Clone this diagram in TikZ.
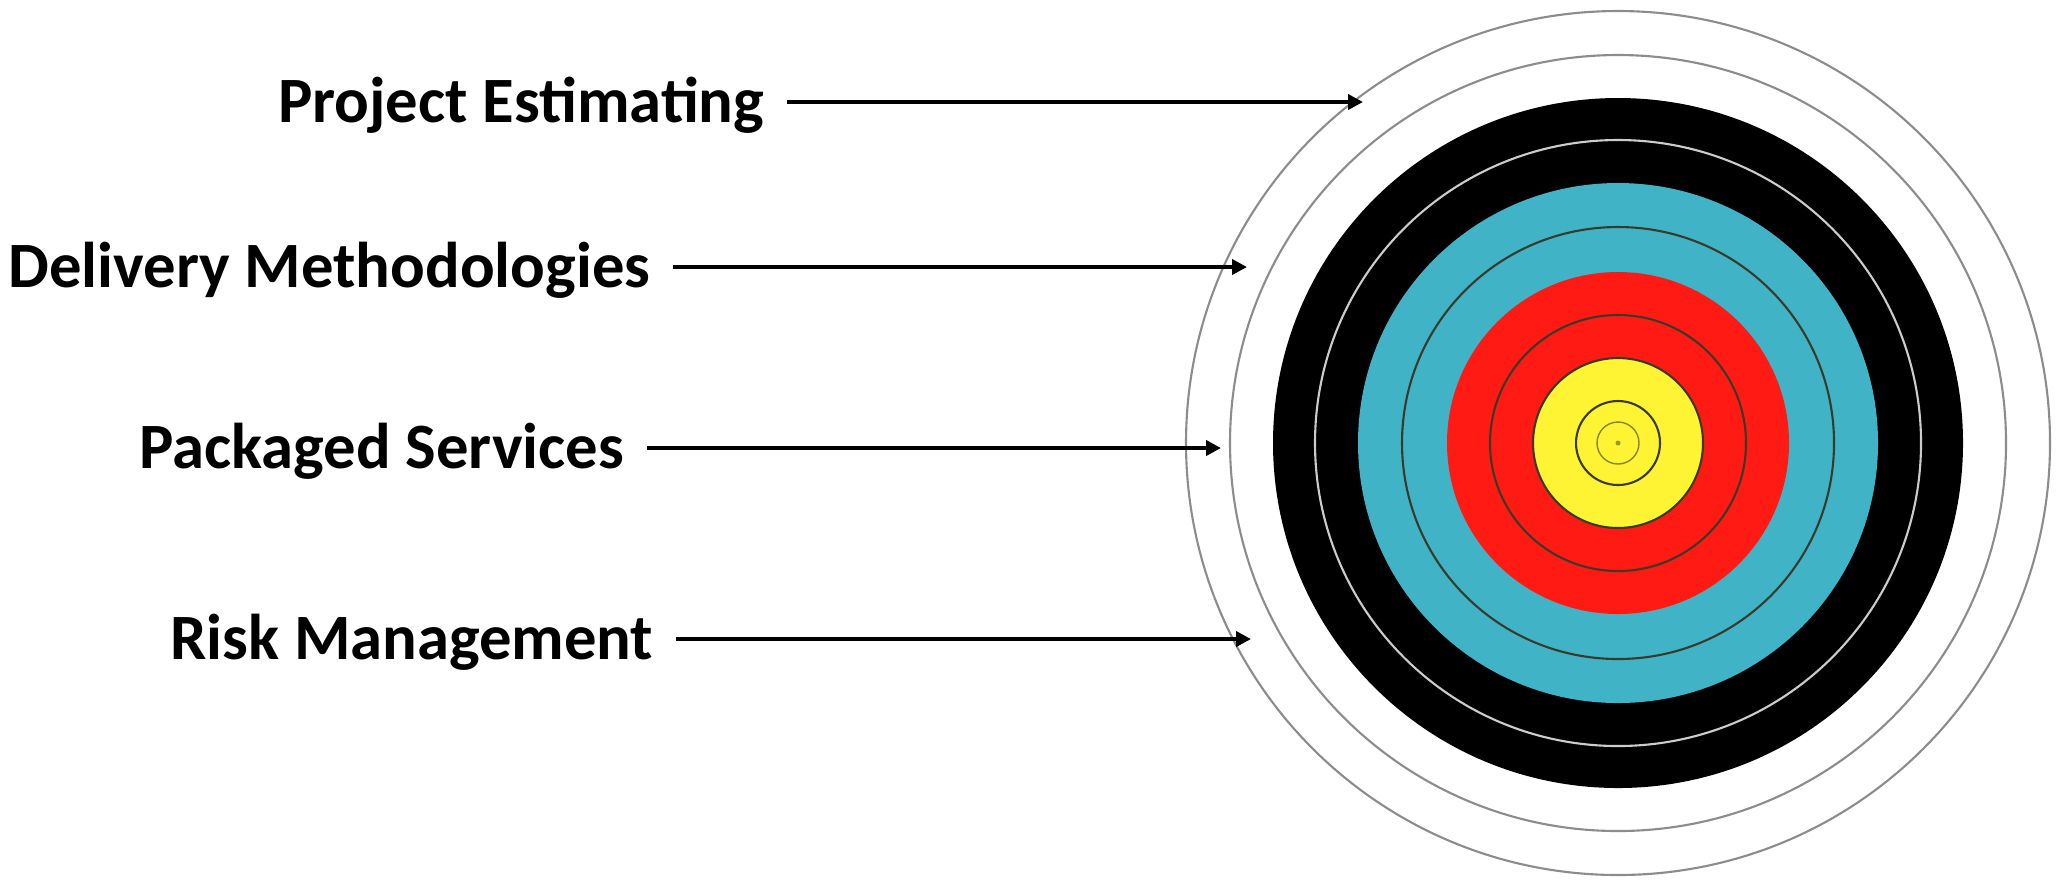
\documentclass[tikz,border=0pt]{standalone}
\usepackage{fontspec}
\setmainfont{Carlito}
\usepackage{tikz}
\usetikzlibrary{arrows.meta, positioning}
\definecolor{ink}{HTML}{000000}
\definecolor{ringcyan}{HTML}{41B3C6}
\definecolor{ringred}{HTML}{FF1A14}
\definecolor{ringgold}{HTML}{FFF433}
\definecolor{ringgray}{HTML}{8C8C8C}
\definecolor{ringdark}{HTML}{3A3A2A}
\tikzset{
  topic/.style  ={font=\fontsize{18.4}{22}\selectfont\bfseries, text=ink, anchor=east,
                  inner xsep=0.22cm, inner ysep=0pt, text height=11.8pt, text depth=0pt},
  pointer/.style={-{Triangle[length=1.5mm,width=1.5mm]}, line width=1.2pt, draw=ink},
  ring/.style   ={line width=0.6pt}
}

\begin{document}
\begin{tikzpicture}
  \useasboundingbox (0,0) rectangle (20.65,-8.79);
  \coordinate (ctr) at (16.18,-4.43);

  % target faces
  \foreach \rad/\col in {4.32/white, 3.45/black, 2.60/ringcyan, 1.71/ringred, 0.85/ringgold}
    \fill[\col] (ctr) circle (\rad);
  \draw[ring, draw=ringgray] (ctr) circle (4.32) (ctr) circle (3.88);
  \draw[ring, draw=white!80!black] (ctr) circle (3.03);
  \foreach \rad in {2.16, 1.28, 0.85, 0.42}
    \draw[ring, draw=ringdark] (ctr) circle (\rad);
  \draw[ring, line width=0.4pt, draw=ringdark!60!ringgold] (ctr) circle (0.21);
  \fill[ringdark!50!ringgold] (ctr) circle (0.025);

  % labels
  \node[topic] (est)  at (7.87,-1.02) {Project Estimating};
  \node[topic] (deliv) at (6.73,-2.67) {Delivery Methodologies};
  \node[topic] (pack) at (6.47,-4.48) {Packaged Services};
  \node[topic] (risk) at (6.76,-6.39) {Risk Management};

  \coordinate (estTip)   at (13.63,-1.02);
  \coordinate (delivTip) at (12.47,-2.67);
  \coordinate (packTip)  at (12.21,-4.48);
  \coordinate (riskTip)  at (12.51,-6.39);

  \draw[pointer] (est)   -- (estTip);
  \draw[pointer] (deliv) -- (delivTip);
  \draw[pointer] (pack)  -- (packTip);
  \draw[pointer] (risk)  -- (riskTip);
\end{tikzpicture}
\end{document}
